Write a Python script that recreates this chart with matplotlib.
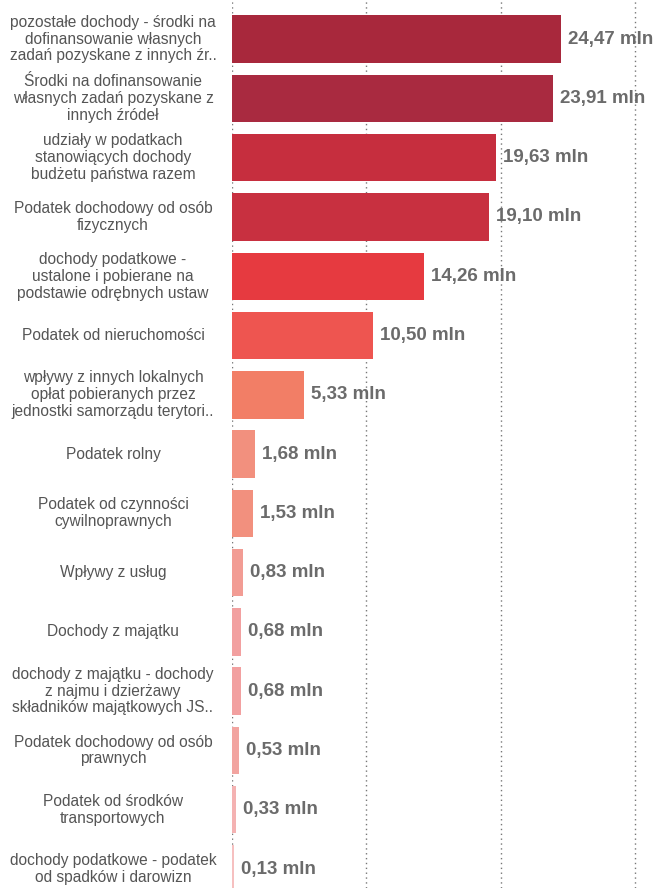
import matplotlib
matplotlib.use("Agg")
import matplotlib.pyplot as plt
import matplotlib.transforms as mtransforms

categories = [
    "pozostałe dochody - środki na\ndofinansowanie własnych\nzadań pozyskane z innych źr..",
    "Środki na dofinansowanie\nwłasnych zadań pozyskane z\ninnych źródeł",
    "udziały w podatkach\nstanowiących dochody\nbudżetu państwa razem",
    "Podatek dochodowy od osób\nfizycznych",
    "dochody podatkowe -\nustalone i pobierane na\npodstawie odrębnych ustaw",
    "Podatek od nieruchomości",
    "wpływy z innych lokalnych\nopłat pobieranych przez\njednostki samorządu terytori..",
    "Podatek rolny",
    "Podatek od czynności\ncywilnoprawnych",
    "Wpływy z usług",
    "Dochody z majątku",
    "dochody z majątku - dochody\nz najmu i dzierżawy\nskładników majątkowych JS..",
    "Podatek dochodowy od osób\nprawnych",
    "Podatek od środków\ntransportowych",
    "dochody podatkowe - podatek\nod spadków i darowizn",
]
values = [24.47, 23.91, 19.63, 19.10, 14.26, 10.50, 5.33, 1.68, 1.53, 0.83, 0.68, 0.68, 0.53, 0.33, 0.13]
value_labels = ["24,47 mln", "23,91 mln", "19,63 mln", "19,10 mln", "14,26 mln", "10,50 mln",
                "5,33 mln", "1,68 mln", "1,53 mln", "0,83 mln", "0,68 mln", "0,68 mln",
                "0,53 mln", "0,33 mln", "0,13 mln"]
colors = ["#a8283c", "#a92a40", "#c62e3e", "#c83040", "#e63a40", "#ee5550",
          "#f27e66", "#f2907e", "#f2907e", "#f29c94", "#f2a0a0", "#f2a0a0",
          "#f2a4a0", "#f4b2b2", "#f6c0c0"]
grid_ticks = [0, 10, 20, 30]

fig = plt.figure(figsize=(6.58, 8.88), dpi=100)
ax = fig.add_axes([232 / 658, 0.0, 1 - 232 / 658, 1.0])

ypos = list(range(len(values)))
ax.barh(ypos, values, height=0.8, color=colors, zorder=2)

ax.set_xlim(0, 31.7)
ax.set_ylim(14.32, -0.66)
ax.set_xticks(grid_ticks)
ax.set_yticks([])
ax.tick_params(axis="x", length=0, labelbottom=False)
ax.grid(axis="x", color="#777777", linestyle=(0, (1, 2.5)), linewidth=1.0, zorder=0)
for s in ax.spines.values():
    s.set_visible(False)

for y, v, lab in zip(ypos, values, value_labels):
    ax.annotate(lab, xy=(v, y), xytext=(5, 0), textcoords="offset points",
                ha="left", va="center", fontsize=13.5, fontweight="bold",
                color="#6b6b6b", family="Liberation Sans")

trans = mtransforms.blended_transform_factory(fig.transFigure, ax.transData)
for y, cat in zip(ypos, categories):
    ax.text(113 / 658, y, cat, transform=trans, ha="center", va="center",
            multialignment="center", fontsize=11.2, color="#555555",
            family="Liberation Sans", linespacing=1.15, clip_on=False)

fig.savefig("out.png", dpi=100)
